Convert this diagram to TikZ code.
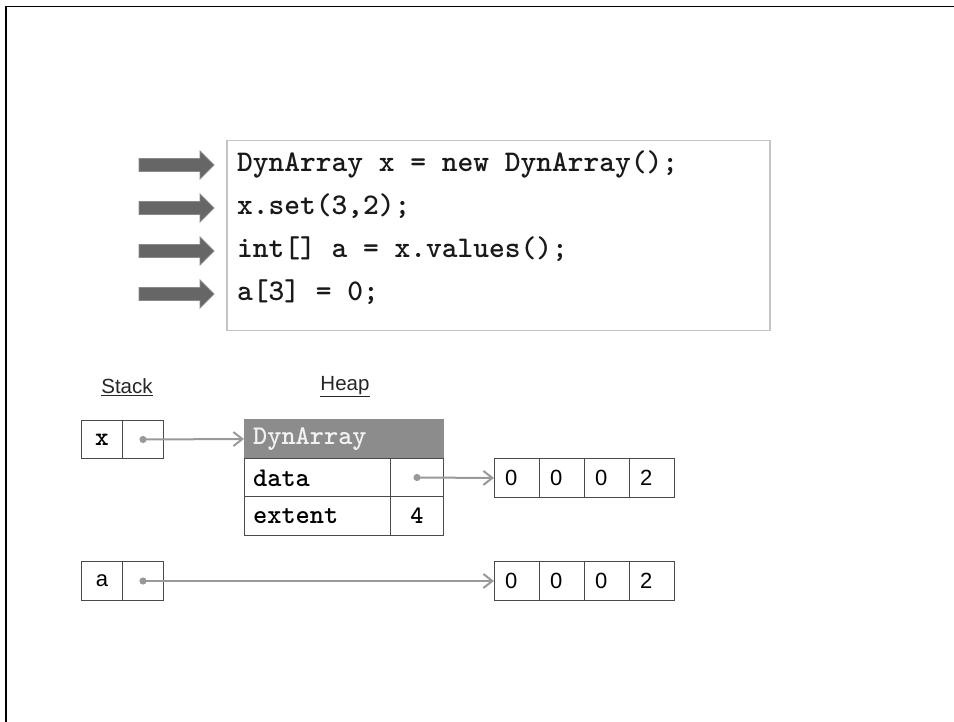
\documentclass[tikz,border=0pt]{standalone}
\usepackage{fontspec}
\usetikzlibrary{arrows.meta}
\newfontfamily\sansf{Liberation Sans}
\definecolor{bigarrow}{HTML}{666666}
\definecolor{bigarrowline}{HTML}{8A8A8A}
\definecolor{codeframe}{HTML}{C4C4C4}
\definecolor{ptr}{HTML}{999999}
\definecolor{hdrfill}{HTML}{8C8C8C}
\definecolor{hdrtext}{HTML}{F2F2F2}
\definecolor{cellline}{HTML}{4A4A4A}
\begin{document}
\begin{tikzpicture}[x=1pt,y=-1pt,
  codetext/.style={anchor=base west, inner sep=0pt, font=\fontsize{30}{36}\selectfont\ttfamily\bfseries, text=black!90},
  bigarr/.style={fill=bigarrow, draw=bigarrowline, line width=0.8pt},
  cell/.style={draw=cellline, line width=1pt, inner sep=0pt, anchor=north west},
  hdr/.style={fill=hdrfill, draw=hdrfill, line width=1pt, inner sep=0pt, anchor=north west},
  heaptext/.style={anchor=west, inner sep=0pt, font=\fontsize{27}{30}\selectfont\ttfamily\bfseries},
  digit/.style={anchor=west, inner sep=0pt, font=\fontsize{22}{26}\selectfont\sansf},
  lbl/.style={inner sep=0pt, font=\fontsize{20.5}{24}\selectfont\sansf, text=black!85},
  pointer/.style={draw=ptr, line width=2pt, shorten <=-3.5pt,
    {Circle[length=7pt]}-{Straight Barb[length=9pt,width=14pt,line width=2pt]}}
]
\useasboundingbox (0,0) rectangle (954,722);
% slide border
\draw[line width=1.6pt] (6,722) -- (6,6.5) -- (954,6.5);

% code frame
\node[draw=codeframe, line width=1.5pt, minimum width=543pt, minimum height=190pt, anchor=north west, inner sep=0pt] (code) at (226,140) {};
\node[codetext] (l1) at (237,172) {DynArray x = new DynArray();};
\node[codetext] (l2) at (237,215) {x.set(3,2);};
\node[codetext] (l3) at (237,258) {int[] a = x.values();};
\node[codetext] (l4) at (237,301) {a[3] = 0;};

% big block arrows
\foreach \yy in {165,208,251,294}{
  \filldraw[bigarr] (139,\yy-6.5) -- (200,\yy-6.5) -- (200,\yy-14) -- (214,\yy) -- (200,\yy+14) -- (200,\yy+6.5) -- (139,\yy+6.5) -- cycle;
}

% labels
\node[lbl] (stack) at (127,387) {\underline{Stack}};
\node[lbl] (heap) at (345,387) {\underline{Heap}};

% stack x
\node[cell, minimum width=41pt, minimum height=38pt] (sx) at (81,420) {};
\node[cell, minimum width=41pt, minimum height=38pt] (sxp) at (122,420) {};
\node[inner sep=0pt, font=\fontsize{26}{28}\selectfont\ttfamily\bfseries] (sxt) at (sx.center) {x};

% stack a
\node[cell, minimum width=41pt, minimum height=39pt] (sa) at (81,561) {};
\node[cell, minimum width=41pt, minimum height=39pt] (sap) at (122,561) {};
\node[inner sep=0pt, font=\fontsize{22}{26}\selectfont\sansf] (sat) at (sa.center) {a};

% heap object
\node[hdr, minimum width=199pt, minimum height=39pt] (hh) at (244,419) {};
\node[heaptext, text=hdrtext] (hht) at (253,439) {DynArray};
\node[cell, minimum width=146pt, minimum height=38pt] (hd) at (244,458) {};
\node[cell, minimum width=53pt, minimum height=38pt] (hdv) at (390,458) {};
\node[cell, minimum width=146pt, minimum height=39pt] (he) at (244,496) {};
\node[cell, minimum width=53pt, minimum height=39pt] (hev) at (390,496) {};
\node[heaptext] (hdt) at (253,478) {data};
\node[heaptext] (het) at (253,516) {extent};
\node[inner sep=0pt, font=\fontsize{25}{28}\selectfont\ttfamily\bfseries] (hevt) at (hev.center) {4};

% arrays
\foreach \i/\v in {0/0,1/0,2/0,3/2}{
  \node[cell, minimum width=45pt, minimum height=39pt] (a1c\i) at (494+45*\i,458) {};
  \node[digit] at (505+45*\i,478) {\v};
  \node[cell, minimum width=45pt, minimum height=39pt] (a2c\i) at (494+45*\i,561) {};
  \node[digit] at (505+45*\i,581) {\v};
}

% pointers
\draw[pointer] (sxp.center) -- (hh.west);
\draw[pointer] (hdv.center) -- (a1c0.west);
\draw[pointer] (sap.center) -- (a2c0.west);
\end{tikzpicture}
\end{document}
